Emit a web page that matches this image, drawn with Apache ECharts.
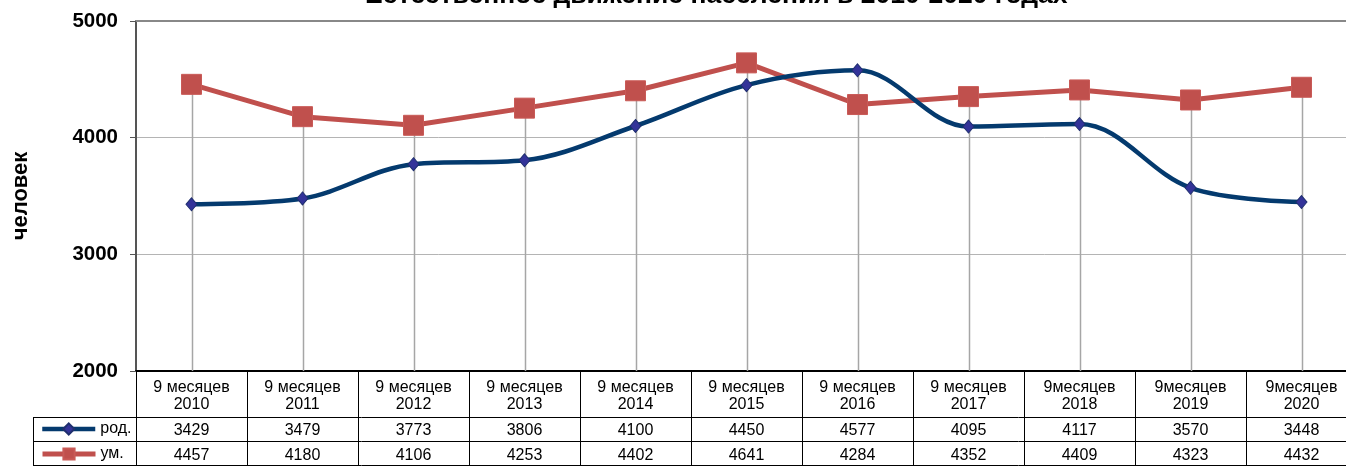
<!DOCTYPE html>
<html>
<head>
<meta charset="utf-8">
<script src="https://cdn.jsdelivr.net/npm/echarts@6/dist/echarts.min.js"></script>
<style>
html,body{margin:0;padding:0;background:#fff;}
#c{width:1346px;height:466px;}
</style>
</head>
<body>
<div id="c"></div>
<script>
const categories = ["9 месяцев\n2010","9 месяцев\n2011","9 месяцев\n2012","9 месяцев\n2013","9 месяцев\n2014","9 месяцев\n2015","9 месяцев\n2016","9 месяцев\n2017","9месяцев\n2018","9месяцев\n2019","9месяцев\n2020"];
const births = [3429,3479,3773,3806,4100,4450,4577,4095,4117,3570,3448];
const deaths = [4457,4180,4106,4253,4402,4641,4284,4352,4409,4323,4432];
const yTicks = {min:2000, max:5000, interval:1000};
const seriesNames = ["род.","ум."];
const titleText = "Естественное движение населения в 2010-2020 годах";
const yName = "человек";

const dropTop = births.map((b,i)=>Math.max(b, deaths[i]));
const FONT = "'Liberation Sans', Arial, sans-serif";

const chart = echarts.init(document.getElementById('c'));
const G = {left:136, top:21, width:1221, height:350, outerBoundsMode:'none', containLabel:false};
const legendBase = {
  orient:'vertical', left:40, itemWidth:53, itemHeight:14, padding:0,
  textStyle:{fontFamily:FONT, fontSize:16, color:'#000', lineHeight:16}
};
chart.setOption({
  animation:false,
  title:{text:titleText, left:360, top:-23, textStyle:{fontFamily:FONT, fontSize:26.5, fontWeight:'bold', color:'#000'}},
  legend:[
    Object.assign({}, legendBase, {top:421, data:[seriesNames[0]], lineStyle:{width:4.5}}),
    Object.assign({}, legendBase, {top:446, data:[seriesNames[1]], lineStyle:{width:5}})
  ],
  grid:G,
  xAxis:[{
    type:'category', data:categories, boundaryGap:true,
    axisLine:{lineStyle:{color:'#000', width:2}},
    axisTick:{show:true, length:95, lineStyle:{color:'#000', width:1}},
    axisLabel:{
      interval:0, margin:8, fontFamily:FONT, color:'#000',
      formatter:function(v, i){
        const p = v.split('\n');
        return '{h|'+p[0]+'}\n{h|'+p[1]+'}\n{v|'+births[i]+'}\n{w|'+deaths[i]+'}';
      },
      rich:{
        h:{fontFamily:FONT, fontSize:16, lineHeight:17, color:'#000'},
        v:{fontFamily:FONT, fontSize:16, lineHeight:35, color:'#000'},
        w:{fontFamily:FONT, fontSize:16, lineHeight:15, color:'#000'}
      }
    },
    splitLine:{show:false}
  },{
    type:'category', data:categories, position:'top', boundaryGap:true,
    axisLine:{lineStyle:{color:'#888', width:2}},
    axisTick:{show:false}, axisLabel:{show:false}, splitLine:{show:false}
  }],
  yAxis:{
    type:'value', min:yTicks.min, max:yTicks.max, interval:yTicks.interval,
    name:yName, nameLocation:'middle', nameRotate:90, nameGap:104,
    nameTextStyle:{fontFamily:FONT, fontSize:22, fontWeight:'bold', color:'#000'},
    axisLine:{show:true, lineStyle:{color:'#555', width:2}},
    axisTick:{show:true, length:6, lineStyle:{color:'#555', width:1}},
    axisLabel:{margin:18, fontFamily:FONT, fontSize:20.5, fontWeight:'bold', color:'#000',
      formatter:function(v){ return String(v); }},
    splitLine:{show:true, lineStyle:{color:'#b4b4b4', width:1}}
  },
  graphic:[
    {type:'line', shape:{x1:33, y1:417.5, x2:1357, y2:417.5}, style:{stroke:'#000', lineWidth:1}, z:100},
    {type:'line', shape:{x1:33, y1:441.5, x2:1357, y2:441.5}, style:{stroke:'#000', lineWidth:1}, z:100},
    {type:'line', shape:{x1:33, y1:465.5, x2:1357, y2:465.5}, style:{stroke:'#000', lineWidth:1}, z:100},
    {type:'line', shape:{x1:33.5, y1:417, x2:33.5, y2:466}, style:{stroke:'#000', lineWidth:1}, z:100}
  ],
  series:[
    {
      type:'custom', name:'drop', silent:true, z:1,
      data:dropTop.map((v,i)=>[i,v]),
      renderItem:function(params, api){
        const p1 = api.coord([api.value(0), api.value(1)]);
        const p2 = api.coord([api.value(0), yTicks.min]);
        const x = Math.round(p1[0])+0.5;
        return {type:'line', shape:{x1:x, y1:p1[1], x2:x, y2:p2[1]}, style:{stroke:'#a6a6a6', lineWidth:1.5}};
      }
    },
    {
      type:'line', name:seriesNames[0], data:births, smooth:0.35, z:3,
      lineStyle:{color:'#043a6e', width:4.5},
      symbol:'diamond', symbolSize:[11,13],
      itemStyle:{color:'#333399', borderColor:'#1f2f6f', borderWidth:1}
    },
    {
      type:'line', name:seriesNames[1], data:deaths, smooth:false, z:2,
      lineStyle:{color:'#c0504d', width:5},
      symbol:'rect', symbolSize:20,
      itemStyle:{color:'#c0504d', borderColor:'#c95a57', borderWidth:1}
    }
  ]
});
</script>
</body>
</html>
